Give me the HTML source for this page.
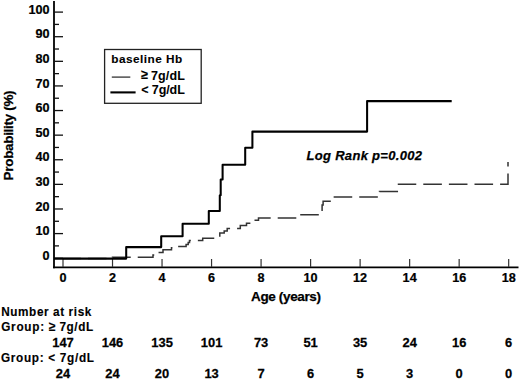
<!DOCTYPE html>
<html><head><meta charset="utf-8"><style>
html,body{margin:0;padding:0;background:#fff;}
body{width:520px;height:379px;overflow:hidden;}
svg{display:block;}
text{font-family:"Liberation Sans",sans-serif;font-weight:bold;fill:#000;}
</style></head><body>
<svg width="520" height="379" viewBox="0 0 520 379">
<rect width="520" height="379" fill="#fff"/>
<line x1="54" y1="1" x2="54" y2="268.2" stroke="#000" stroke-width="1.8"/>
<line x1="53.1" y1="267.3" x2="518.5" y2="267.3" stroke="#000" stroke-width="1.8"/>
<line x1="54" y1="258.20" x2="63" y2="258.20" stroke="#111" stroke-width="1.3"/>
<line x1="54" y1="245.89" x2="59" y2="245.89" stroke="#111" stroke-width="1.3"/>
<line x1="54" y1="233.59" x2="63" y2="233.59" stroke="#111" stroke-width="1.3"/>
<line x1="54" y1="221.28" x2="59" y2="221.28" stroke="#111" stroke-width="1.3"/>
<line x1="54" y1="208.98" x2="63" y2="208.98" stroke="#111" stroke-width="1.3"/>
<line x1="54" y1="196.67" x2="59" y2="196.67" stroke="#111" stroke-width="1.3"/>
<line x1="54" y1="184.37" x2="63" y2="184.37" stroke="#111" stroke-width="1.3"/>
<line x1="54" y1="172.06" x2="59" y2="172.06" stroke="#111" stroke-width="1.3"/>
<line x1="54" y1="159.76" x2="63" y2="159.76" stroke="#111" stroke-width="1.3"/>
<line x1="54" y1="147.45" x2="59" y2="147.45" stroke="#111" stroke-width="1.3"/>
<line x1="54" y1="135.15" x2="63" y2="135.15" stroke="#111" stroke-width="1.3"/>
<line x1="54" y1="122.84" x2="59" y2="122.84" stroke="#111" stroke-width="1.3"/>
<line x1="54" y1="110.54" x2="63" y2="110.54" stroke="#111" stroke-width="1.3"/>
<line x1="54" y1="98.23" x2="59" y2="98.23" stroke="#111" stroke-width="1.3"/>
<line x1="54" y1="85.93" x2="63" y2="85.93" stroke="#111" stroke-width="1.3"/>
<line x1="54" y1="73.62" x2="59" y2="73.62" stroke="#111" stroke-width="1.3"/>
<line x1="54" y1="61.32" x2="63" y2="61.32" stroke="#111" stroke-width="1.3"/>
<line x1="54" y1="49.02" x2="59" y2="49.02" stroke="#111" stroke-width="1.3"/>
<line x1="54" y1="36.71" x2="63" y2="36.71" stroke="#111" stroke-width="1.3"/>
<line x1="54" y1="24.41" x2="59" y2="24.41" stroke="#111" stroke-width="1.3"/>
<line x1="54" y1="12.10" x2="63" y2="12.10" stroke="#111" stroke-width="1.3"/>
<text transform="translate(49.60,259.90) scale(0.93,1)" font-size="13.6" text-anchor="end" stroke="#000" stroke-width="0.25">0</text>
<text transform="translate(49.60,235.29) scale(0.93,1)" font-size="13.6" text-anchor="end" stroke="#000" stroke-width="0.25">10</text>
<text transform="translate(49.60,210.68) scale(0.93,1)" font-size="13.6" text-anchor="end" stroke="#000" stroke-width="0.25">20</text>
<text transform="translate(49.60,186.07) scale(0.93,1)" font-size="13.6" text-anchor="end" stroke="#000" stroke-width="0.25">30</text>
<text transform="translate(49.60,161.46) scale(0.93,1)" font-size="13.6" text-anchor="end" stroke="#000" stroke-width="0.25">40</text>
<text transform="translate(49.60,136.85) scale(0.93,1)" font-size="13.6" text-anchor="end" stroke="#000" stroke-width="0.25">50</text>
<text transform="translate(49.60,112.24) scale(0.93,1)" font-size="13.6" text-anchor="end" stroke="#000" stroke-width="0.25">60</text>
<text transform="translate(49.60,87.63) scale(0.93,1)" font-size="13.6" text-anchor="end" stroke="#000" stroke-width="0.25">70</text>
<text transform="translate(49.60,63.02) scale(0.93,1)" font-size="13.6" text-anchor="end" stroke="#000" stroke-width="0.25">80</text>
<text transform="translate(49.60,38.41) scale(0.93,1)" font-size="13.6" text-anchor="end" stroke="#000" stroke-width="0.25">90</text>
<text transform="translate(49.60,13.80) scale(0.93,1)" font-size="13.6" text-anchor="end" stroke="#000" stroke-width="0.25">100</text>
<line x1="63.00" y1="259" x2="63.00" y2="267" stroke="#333" stroke-width="1.2"/>
<text transform="translate(63.00,282.30) scale(0.93,1)" font-size="13.6" text-anchor="middle" stroke="#000" stroke-width="0.25">0</text>
<line x1="112.52" y1="259" x2="112.52" y2="267" stroke="#333" stroke-width="1.2"/>
<text transform="translate(112.52,282.30) scale(0.93,1)" font-size="13.6" text-anchor="middle" stroke="#000" stroke-width="0.25">2</text>
<line x1="162.04" y1="259" x2="162.04" y2="267" stroke="#333" stroke-width="1.2"/>
<text transform="translate(162.04,282.30) scale(0.93,1)" font-size="13.6" text-anchor="middle" stroke="#000" stroke-width="0.25">4</text>
<line x1="211.56" y1="259" x2="211.56" y2="267" stroke="#333" stroke-width="1.2"/>
<text transform="translate(211.56,282.30) scale(0.93,1)" font-size="13.6" text-anchor="middle" stroke="#000" stroke-width="0.25">6</text>
<line x1="261.08" y1="259" x2="261.08" y2="267" stroke="#333" stroke-width="1.2"/>
<text transform="translate(261.08,282.30) scale(0.93,1)" font-size="13.6" text-anchor="middle" stroke="#000" stroke-width="0.25">8</text>
<line x1="310.60" y1="259" x2="310.60" y2="267" stroke="#333" stroke-width="1.2"/>
<text transform="translate(310.60,282.30) scale(0.93,1)" font-size="13.6" text-anchor="middle" stroke="#000" stroke-width="0.25">10</text>
<line x1="360.12" y1="259" x2="360.12" y2="267" stroke="#333" stroke-width="1.2"/>
<text transform="translate(360.12,282.30) scale(0.93,1)" font-size="13.6" text-anchor="middle" stroke="#000" stroke-width="0.25">12</text>
<line x1="409.64" y1="259" x2="409.64" y2="267" stroke="#333" stroke-width="1.2"/>
<text transform="translate(409.64,282.30) scale(0.93,1)" font-size="13.6" text-anchor="middle" stroke="#000" stroke-width="0.25">14</text>
<line x1="459.16" y1="259" x2="459.16" y2="267" stroke="#333" stroke-width="1.2"/>
<text transform="translate(459.16,282.30) scale(0.93,1)" font-size="13.6" text-anchor="middle" stroke="#000" stroke-width="0.25">16</text>
<line x1="508.68" y1="259" x2="508.68" y2="267" stroke="#333" stroke-width="1.2"/>
<text transform="translate(508.68,282.30) scale(0.93,1)" font-size="13.6" text-anchor="middle" stroke="#000" stroke-width="0.25">18</text>
<text transform="translate(251.00,301.40)" font-size="13.5" textLength="70" lengthAdjust="spacing" stroke="#000" stroke-width="0.25">Age (years)</text>
<text transform="translate(13.30,180.40) rotate(-90)" font-size="13.5" textLength="90.0" lengthAdjust="spacing" stroke="#000" stroke-width="0.25">Probability (%)</text>
<rect x="104.6" y="49.5" width="96.6" height="53.8" fill="#fff" stroke="#222" stroke-width="1.3"/>
<text transform="translate(111.20,63.00)" font-size="11.8" textLength="71.0" lengthAdjust="spacing" stroke="#000" stroke-width="0.1">baseline Hb</text>
<line x1="111.8" y1="77.1" x2="130.3" y2="77.1" stroke="#333" stroke-width="1.3"/>
<text transform="translate(141.00,79.30) scale(0.95,1)" font-size="13.4" stroke="#000" stroke-width="0.1">≥</text>
<text transform="translate(151.00,79.50)" font-size="12.5" textLength="33.8" lengthAdjust="spacing" stroke="#000" stroke-width="0.05">7g/dL</text>
<line x1="110.4" y1="92.4" x2="135.6" y2="92.4" stroke="#000" stroke-width="2.1"/>
<text transform="translate(141.30,94.00)" font-size="12.5" stroke="#000" stroke-width="0.1">&lt;</text>
<text transform="translate(151.80,94.30)" font-size="12.5" textLength="33.0" lengthAdjust="spacing" stroke="#000" stroke-width="0.05">7g/dL</text>
<polyline points="63.0,258.6 112.5,258.6 112.5,257.2 153.0,257.2 153.0,255.1 159.3,255.1 159.3,252.6 163.0,252.6 163.0,249.8 171.5,249.8 171.5,247.7 175.0,247.7 175.0,246.4 186.1,246.4 186.1,244.5 188.2,244.5 188.2,242.6 189.5,242.6 189.5,240.5 202.7,240.5 202.7,238.3 219.8,238.3 219.8,233.1 224.2,233.1 224.2,230.9 227.2,230.9 227.2,228.5 240.3,228.5 240.3,225.5 246.5,225.5 246.5,223.2 252.0,223.2 252.0,220.3 258.5,220.3 258.5,217.9 298.5,217.9 298.5,214.8 322.1,214.8 322.1,204.9 323.1,204.9 323.1,201.2 333.0,201.2 333.0,197.0 379.5,197.0 379.5,191.6 398.5,191.6 398.5,184.2 508.0,184.2 508.0,162.0" fill="none" stroke="#333" stroke-width="1.5" stroke-dasharray="18.6 7.01" stroke-dashoffset="0.7"/>
<polyline points="54.0,258.6 126.2,258.6 126.2,247.1 161.2,247.1 161.2,236.2 182.6,236.2 182.6,223.8 208.8,223.8 208.8,210.9 219.8,210.9 219.8,195.3 220.7,195.3 220.7,179.5 222.6,179.5 222.6,164.7 245.2,164.7 245.2,147.7 252.4,147.7 252.4,131.6 367.1,131.6 367.1,101.1 451.7,101.1" fill="none" stroke="#000" stroke-width="2.05" stroke-linejoin="round" stroke-linecap="butt"/>
<text transform="translate(306.50,160.40)" font-size="13" font-style="italic" textLength="115.5" lengthAdjust="spacing" stroke="#000" stroke-width="0.25">Log Rank p=0.002</text>
<text transform="translate(1.20,315.80) scale(0.92,1)" font-size="12.8" textLength="98.0" lengthAdjust="spacing" stroke="#000" stroke-width="0.15">Number at risk</text>
<text transform="translate(1.20,330.80) scale(0.92,1)" font-size="12.8" textLength="46.6" lengthAdjust="spacing" stroke="#000" stroke-width="0.15">Group:</text>
<text transform="translate(48.70,330.70) scale(0.9,1)" font-size="13.5" stroke="#000" stroke-width="0.15">≥</text>
<text transform="translate(59.50,330.80) scale(0.92,1)" font-size="12.8" textLength="36.5" lengthAdjust="spacing" stroke="#000" stroke-width="0.15">7g/dL</text>
<text transform="translate(1.00,362.30) scale(0.92,1)" font-size="12.8" textLength="101.1" lengthAdjust="spacing" stroke="#000" stroke-width="0.15">Group: &lt; 7g/dL</text>
<text transform="translate(63.00,346.90) scale(0.95,1)" font-size="13.6" text-anchor="middle" stroke="#000" stroke-width="0.25">147</text>
<text transform="translate(63.00,377.70) scale(0.95,1)" font-size="13.6" text-anchor="middle" stroke="#000" stroke-width="0.25">24</text>
<text transform="translate(112.52,346.90) scale(0.95,1)" font-size="13.6" text-anchor="middle" stroke="#000" stroke-width="0.25">146</text>
<text transform="translate(112.52,377.70) scale(0.95,1)" font-size="13.6" text-anchor="middle" stroke="#000" stroke-width="0.25">24</text>
<text transform="translate(162.04,346.90) scale(0.95,1)" font-size="13.6" text-anchor="middle" stroke="#000" stroke-width="0.25">135</text>
<text transform="translate(162.04,377.70) scale(0.95,1)" font-size="13.6" text-anchor="middle" stroke="#000" stroke-width="0.25">20</text>
<text transform="translate(211.56,346.90) scale(0.95,1)" font-size="13.6" text-anchor="middle" stroke="#000" stroke-width="0.25">101</text>
<text transform="translate(211.56,377.70) scale(0.95,1)" font-size="13.6" text-anchor="middle" stroke="#000" stroke-width="0.25">13</text>
<text transform="translate(261.08,346.90) scale(0.95,1)" font-size="13.6" text-anchor="middle" stroke="#000" stroke-width="0.25">73</text>
<text transform="translate(261.08,377.70) scale(0.95,1)" font-size="13.6" text-anchor="middle" stroke="#000" stroke-width="0.25">7</text>
<text transform="translate(310.60,346.90) scale(0.95,1)" font-size="13.6" text-anchor="middle" stroke="#000" stroke-width="0.25">51</text>
<text transform="translate(310.60,377.70) scale(0.95,1)" font-size="13.6" text-anchor="middle" stroke="#000" stroke-width="0.25">6</text>
<text transform="translate(360.12,346.90) scale(0.95,1)" font-size="13.6" text-anchor="middle" stroke="#000" stroke-width="0.25">35</text>
<text transform="translate(360.12,377.70) scale(0.95,1)" font-size="13.6" text-anchor="middle" stroke="#000" stroke-width="0.25">5</text>
<text transform="translate(409.64,346.90) scale(0.95,1)" font-size="13.6" text-anchor="middle" stroke="#000" stroke-width="0.25">24</text>
<text transform="translate(409.64,377.70) scale(0.95,1)" font-size="13.6" text-anchor="middle" stroke="#000" stroke-width="0.25">3</text>
<text transform="translate(459.16,346.90) scale(0.95,1)" font-size="13.6" text-anchor="middle" stroke="#000" stroke-width="0.25">16</text>
<text transform="translate(459.16,377.70) scale(0.95,1)" font-size="13.6" text-anchor="middle" stroke="#000" stroke-width="0.25">0</text>
<text transform="translate(508.68,346.90) scale(0.95,1)" font-size="13.6" text-anchor="middle" stroke="#000" stroke-width="0.25">6</text>
<text transform="translate(508.68,377.70) scale(0.95,1)" font-size="13.6" text-anchor="middle" stroke="#000" stroke-width="0.25">0</text>
</svg>
</body></html>
